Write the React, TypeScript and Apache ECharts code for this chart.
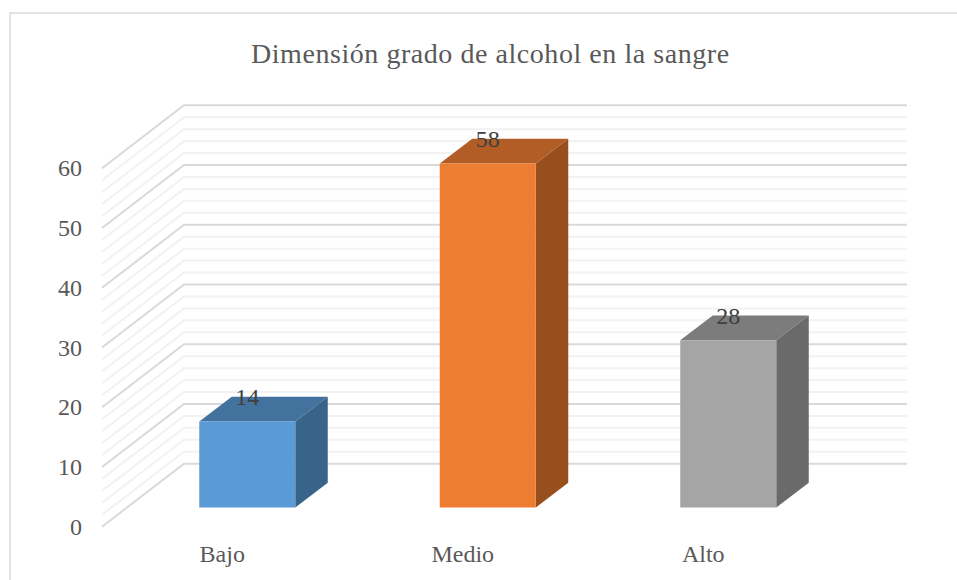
import React, { useEffect, useRef } from "react";
import * as echarts from "echarts";

const titleText = "Dimensión grado de alcohol en la sangre";
const categories = ["Bajo", "Medio", "Alto"];
const values = [14.4, 57.6, 28];
const valueLabels = ["14", "58", "28"];
const frontColors = ["#5B9BD5", "#ED7D31", "#A5A5A5"];
const topColors = ["#44729F", "#B15D25", "#7C7C7C"];
const sideColors = ["#38648A", "#984F1E", "#6A6A6A"];
const gridTicks = [0, 2, 4, 6, 8, 10, 12, 14, 16, 18, 20, 22, 24, 26, 28, 30, 32, 34, 36, 38, 40, 42, 44, 46, 48, 50, 52, 54, 56, 58, 60];
const majorTicks = [0, 10, 20, 30, 40, 50, 60];

const WALL_DX = 82;
const WALL_DY = 63;
const WALL_RIGHT = 907;
const BAR_FRONT_DX = 25;
const BAR_FRONT_DY = 19.2;
const BAR_DEPTH_DX = 32.5;
const BAR_DEPTH_DY = 24.7;
const BAR_W = 96;
const INK = "#595959";

export default function App() {
  const ref = useRef<HTMLDivElement>(null);
  useEffect(() => {
    const chart = echarts.init(ref.current!, undefined, { renderer: "svg" });
    chart.setOption({
      animation: false,
      backgroundColor: "#FFFFFF",
      title: {
        text: titleText,
        left: 246,
        top: 34,
        textStyle: { fontFamily: "Liberation Serif", fontSize: 28, fontWeight: "normal", color: INK },
      },
      grid: { left: 102, top: 168.3, width: 721.5, height: 358.4, containLabel: false },
      xAxis: {
        type: "category",
        data: categories,
        axisLine: { show: false },
        axisTick: { show: false },
        splitLine: { show: false },
        axisLabel: { margin: 15, fontFamily: "Liberation Serif", fontSize: 24, color: INK },
      },
      yAxis: {
        type: "value",
        min: 0,
        max: 60,
        interval: 10,
        axisLine: { show: false },
        axisTick: { show: false },
        splitLine: { show: false },
        axisLabel: { margin: 20, fontFamily: "Liberation Serif", fontSize: 24, color: INK },
      },
      graphic: [
        {
          type: "rect",
          silent: true,
          z: -10,
          shape: { x: 10, y: 13, width: 1000, height: 700 },
          style: { fill: "none", stroke: "#D9D9D9", lineWidth: 1.5 },
        },
      ],
      series: [
        {
          type: "custom",
          coordinateSystem: "cartesian2d",
          clip: false,
          silent: true,
          z: 1,
          encode: { y: 0 },
          data: gridTicks.map((t) => [t]),
          renderItem: (params: any, api: any) => {
            const t = api.value(0);
            const y = api.coord([0, t])[1];
            const left = params.coordSys.x;
            return {
              type: "polyline",
              shape: {
                points: [
                  [left, y],
                  [left + WALL_DX, y - WALL_DY],
                  [WALL_RIGHT, y - WALL_DY],
                ],
              },
              style: {
                fill: "none",
                stroke: majorTicks.includes(t) ? "#D9D9D9" : "#F2F2F2",
                lineWidth: 2,
              },
            };
          },
        },
        {
          type: "custom",
          coordinateSystem: "cartesian2d",
          clip: false,
          silent: true,
          z: 2,
          encode: { x: 0, y: 1 },
          data: values.map((v, i) => [i, v]),
          renderItem: (params: any, api: any) => {
            const i = params.dataIndex;
            const top = api.coord([api.value(0), api.value(1)]);
            const base = api.coord([api.value(0), 0]);
            const x0 = top[0] + BAR_FRONT_DX - BAR_W / 2;
            const x1 = x0 + BAR_W;
            const yT = top[1] - BAR_FRONT_DY;
            const yB = base[1] - BAR_FRONT_DY;
            const dx = BAR_DEPTH_DX;
            const dy = BAR_DEPTH_DY;
            return {
              type: "group",
              children: [
                {
                  type: "polygon",
                  shape: { points: [[x0, yT], [x0 + dx, yT - dy], [x1 + dx, yT - dy], [x1, yT]] },
                  style: { fill: topColors[i] },
                },
                {
                  type: "polygon",
                  shape: { points: [[x1, yT], [x1 + dx, yT - dy], [x1 + dx, yB - dy], [x1, yB]] },
                  style: { fill: sideColors[i] },
                },
                {
                  type: "rect",
                  shape: { x: x0, y: yT, width: BAR_W, height: yB - yT },
                  style: { fill: frontColors[i] },
                },
                {
                  type: "text",
                  style: {
                    text: valueLabels[i],
                    x: (x0 + x1) / 2,
                    y: yT - 24,
                    align: "center",
                    verticalAlign: "middle",
                    fontFamily: "Liberation Serif",
                    fontSize: 24,
                    fill: "#404040",
                  },
                },
              ],
            };
          },
        },
      ],
    });
    // ECharts has no letter spacing option; the reference's title is set slightly wider.
    ref.current!.querySelectorAll("text").forEach((el) => {
      if (el.textContent === titleText) el.setAttribute("letter-spacing", "0.55");
    });
    return () => chart.dispose();
  }, []);
  return <div ref={ref} style={{ position: "fixed", left: 0, top: 0, width: 957, height: 580 }} />;
}
